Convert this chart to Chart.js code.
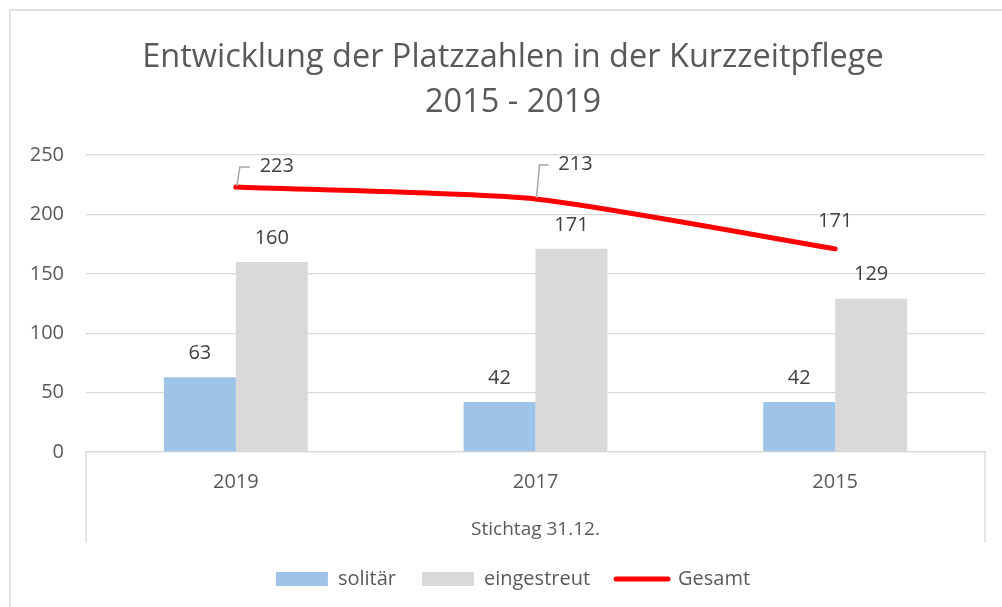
<!DOCTYPE html>
<html>
<head>
<meta charset="utf-8">
<script src="https://cdn.jsdelivr.net/npm/chart.js@4.4.1/dist/chart.umd.min.js"></script>
<style>
  html, body { margin: 0; padding: 0; background: #fff; }
  #wrap { width: 1002px; height: 607px; position: relative; }
</style>
</head>
<body>
<div id="wrap"><canvas id="grafico"></canvas></div>
<script>
const jahre = ['2019', '2017', '2015'];
const solitaer = [63, 42, 42];
const eingestreut = [160, 171, 129];
const gesamt = [223, 213, 171];
const yTicks = [0, 50, 100, 150, 200, 250];

const titelZeilen = ['Entwicklung der Platzzahlen in der Kurzzeitpflege', '2015 - 2019'];
const achsenTitel = 'Stichtag 31.12.';

const schrift = '"Open Sans", "Noto Sans", sans-serif';
const textFarbe = '#595959';
const gitterFarbe = '#d9d9d9';

// versatz der beschriftungen an der linie (dx, dy, mit fuehrungslinie?)
const linienLabelVersatz = [
    { dx: 41, dy: -21, fuehrung: true },
    { dx: 40, dy: -35, fuehrung: true },
    { dx: 0, dy: -28, fuehrung: false }
];

const rahmenPlugin = {
    id: 'rahmen',
    beforeDraw(chart) {
        // titel und legende sitzen im original mittig im ganzen rahmen
        chart.titleBlock.left = 40;
        chart.titleBlock.right = 986;
        chart.legend.left = 40;
        chart.legend.right = 986;

        const ctx = chart.ctx;
        ctx.save();
        ctx.strokeStyle = gitterFarbe;
        ctx.lineWidth = 1.5;
        ctx.beginPath();
        ctx.moveTo(10, 620);
        ctx.lineTo(10, 10);
        ctx.lineTo(1010, 10);
        ctx.stroke();
        ctx.restore();
    },
    afterDraw(chart) {
        const ctx = chart.ctx;
        const area = chart.chartArea;
        const x = chart.scales.x;
        ctx.save();
        ctx.strokeStyle = gitterFarbe;
        ctx.lineWidth = 1.3;
        ctx.beginPath();
        ctx.moveTo(area.left, area.bottom);
        ctx.lineTo(area.left, x.bottom);
        ctx.moveTo(area.right, area.bottom);
        ctx.lineTo(area.right, x.bottom);
        ctx.stroke();
        ctx.restore();
    }
};

const labelPlugin = {
    id: 'werte',
    afterDatasetsDraw(chart) {
        const ctx = chart.ctx;
        ctx.save();
        ctx.font = '20px ' + schrift;
        ctx.fillStyle = '#404040';
        ctx.textAlign = 'center';
        ctx.textBaseline = 'middle';
        chart.data.datasets.forEach((ds, i) => {
            const meta = chart.getDatasetMeta(i);
            meta.data.forEach((el, j) => {
                const wert = ds.data[j];
                if (ds.type === 'line') {
                    const v = linienLabelVersatz[j];
                    const lx = el.x + v.dx;
                    const ly = el.y + v.dy;
                    if (v.fuehrung) {
                        ctx.strokeStyle = '#a6a6a6';
                        ctx.lineWidth = 1.5;
                        ctx.beginPath();
                        ctx.moveTo(el.x + 1, el.y - 1);
                        ctx.lineTo(el.x + 4, ly + 1);
                        ctx.lineTo(lx - 27, ly + 1);
                        ctx.stroke();
                    }
                    ctx.fillText(String(wert), lx, ly);
                } else {
                    ctx.fillText(String(wert), el.x, el.y - 24);
                }
            });
        });
        ctx.restore();
    }
};

new Chart(document.getElementById('grafico'), {
    data: {
        labels: jahre,
        datasets: [
            {
                type: 'line',
                label: 'Gesamt',
                data: gesamt,
                borderColor: '#ff0000',
                backgroundColor: '#ff0000',
                borderWidth: 5,
                borderCapStyle: 'round',
                tension: 0.2,
                pointRadius: 0,
                pointHoverRadius: 0,
                pointStyle: 'line',
                order: 0
            },
            {
                type: 'bar',
                label: 'solitär',
                data: solitaer,
                backgroundColor: '#9dc3e6',
                categoryPercentage: 0.48,
                barPercentage: 1,
                order: 1
            },
            {
                type: 'bar',
                label: 'eingestreut',
                data: eingestreut,
                backgroundColor: '#d9d9d9',
                categoryPercentage: 0.48,
                barPercentage: 1,
                order: 1
            }
        ]
    },
    options: {
        responsive: true,
        maintainAspectRatio: false,
        animation: false,
        layout: { padding: { left: 10, right: 17, top: 3, bottom: 8 } },
        plugins: {
            title: {
                display: true,
                text: titelZeilen,
                color: textFarbe,
                font: { family: schrift, size: 32.5, weight: 'normal', lineHeight: 1.385 },
                padding: { top: 32, bottom: 30 }
            },
            legend: {
                position: 'bottom',
                labels: {
                    color: textFarbe,
                    font: { family: schrift, size: 20 },
                    usePointStyle: true,
                    pointStyleWidth: 52,
                    boxHeight: 14,
                    padding: 26,
                    sort: (a, b) => (a.text === 'Gesamt') - (b.text === 'Gesamt'),
                    generateLabels(chart) {
                        const items = Chart.defaults.plugins.legend.labels.generateLabels(chart);
                        return items.map(it => {
                            if (it.text === 'Gesamt') {
                                it.pointStyle = 'line';
                                it.lineWidth = 5;
                                it.lineCap = 'round';
                                it.strokeStyle = '#ff0000';
                            } else {
                                it.pointStyle = 'rect';
                                it.lineWidth = 0;
                            }
                            return it;
                        });
                    }
                }
            },
            tooltip: { enabled: false }
        },
        scales: {
            x: {
                grid: { display: false },
                border: { color: gitterFarbe, width: 1.3 },
                ticks: { color: textFarbe, font: { family: schrift, size: 20 }, padding: 10 },
                title: {
                    display: true,
                    text: achsenTitel,
                    color: textFarbe,
                    font: { family: schrift, size: 19 },
                    padding: { top: 13, bottom: 2 }
                },
                afterFit(scale) { scale.height = 91; }
            },
            y: {
                min: 0,
                max: 250,
                afterBuildTicks(scale) { scale.ticks = yTicks.map(v => ({ value: v })); },
                grid: { color: gitterFarbe, lineWidth: 1.3, drawTicks: false },
                border: { display: false },
                ticks: { color: textFarbe, font: { family: schrift, size: 20 }, padding: 22 },
                afterFit(scale) { scale.width = 76; }
            }
        }
    },
    plugins: [rahmenPlugin, labelPlugin]
});
</script>
</body>
</html>
